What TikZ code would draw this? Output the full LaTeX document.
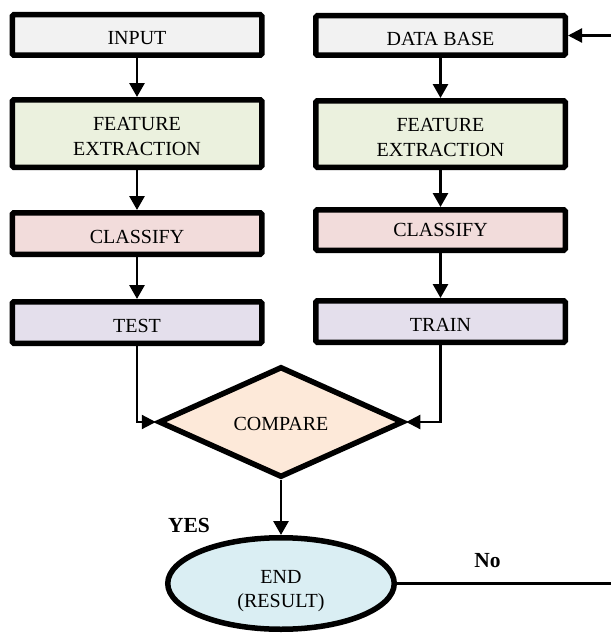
\documentclass[tikz,border=0pt]{standalone}
\usepackage{fontspec}
\setmainfont{Liberation Serif}
\usetikzlibrary{shapes.geometric,arrows.meta}
\definecolor{fGray}{HTML}{F2F2F2}
\definecolor{fGreen}{HTML}{EBF1DE}
\definecolor{fRed}{HTML}{F2DCDB}
\definecolor{fPurple}{HTML}{E4DFEC}
\definecolor{fOrange}{HTML}{FDE9D9}
\definecolor{fBlue}{HTML}{DAEEF3}
\begin{document}
\begin{tikzpicture}[x=1pt,y=-1pt,
  txt/.style={font=\fontsize{20}{25}\selectfont},
  box/.style={txt,draw=black,line width=5.5pt,rounded corners=1.5pt,minimum width=249.5pt,inner sep=0pt,align=center},
  one/.style={box,text height=20pt,text depth=0pt},
  conn/.style={draw=black,line width=2.8pt,-{Triangle[length=14pt,width=15pt]}},
  side/.style={draw=black,line width=2.2pt,-{Triangle[length=14pt,width=14pt]}},
  lbl/.style={font=\fontsize{21.5}{25}\selectfont\bfseries,inner sep=0pt}]
\useasboundingbox (0,0) rectangle (611,634);
% left column
\node[one,fill=fGray,minimum height=40.5pt] (in) at (137,35) {INPUT};
\node[box,fill=fGreen,minimum height=67.5pt] (fe1) at (137,133.5) {\rule{0pt}{20pt}FEATURE\\EXTRACTION};
\node[one,fill=fRed,minimum height=41.5pt] (cl1) at (137,233.5) {CLASSIFY};
\node[one,fill=fPurple,minimum height=41.5pt] (te) at (137,322.5) {TEST};
% right column
\node[one,fill=fGray,minimum height=39.5pt] (db) at (440.5,35.5) {DATA BASE};
\node[box,fill=fGreen,minimum height=66.5pt] (fe2) at (440.5,134) {\rule{0pt}{20pt}FEATURE\\EXTRACTION};
\node[box,fill=fRed,minimum height=40.5pt] (cl2) at (440.5,230) {CLASSIFY};
\node[one,fill=fPurple,minimum height=41.5pt] (tr) at (440.5,321.5) {TRAIN};
% decision and end
\node[diamond,draw=black,line width=5.5pt,fill=fOrange,minimum width=245pt,minimum height=105pt,inner sep=0pt,txt,text height=16pt,text depth=0pt] (cmp) at (281,422) {COMPARE};
\node[ellipse,draw=black,line width=5.5pt,fill=fBlue,minimum width=226.5pt,minimum height=91.5pt,inner sep=0pt,align=center,font=\fontsize{20}{24}\selectfont] (end) at (281,583.5) {\rule{0pt}{28pt}END\\(RESULT)};
% connectors
\draw[conn] (in.south) -- (fe1.north);
\draw[conn] (fe1.south) -- (cl1.north);
\draw[conn] (cl1.south) -- (te.north);
\draw[conn] (db.south) -- (fe2.north);
\draw[conn] (fe2.south) -- (cl2.north);
\draw[conn] (cl2.south) -- (tr.north);
\draw[side] (te.south) |- (cmp.west);
\draw[side] (tr.south) |- (cmp.east);
\draw[conn] (cmp.south) -- (end.north);
\coordinate (rin) at (611,35.5);
\draw[side] (rin) -- (db.east);
\coordinate (rout) at (611,583.5);
\draw[draw=black,line width=2.2pt] (end.east) -- (rout);
% labels
\node[lbl] (yes) at (189,525.5) {YES};
\node[lbl] (no) at (487.5,561) {No};
\end{tikzpicture}
\end{document}
